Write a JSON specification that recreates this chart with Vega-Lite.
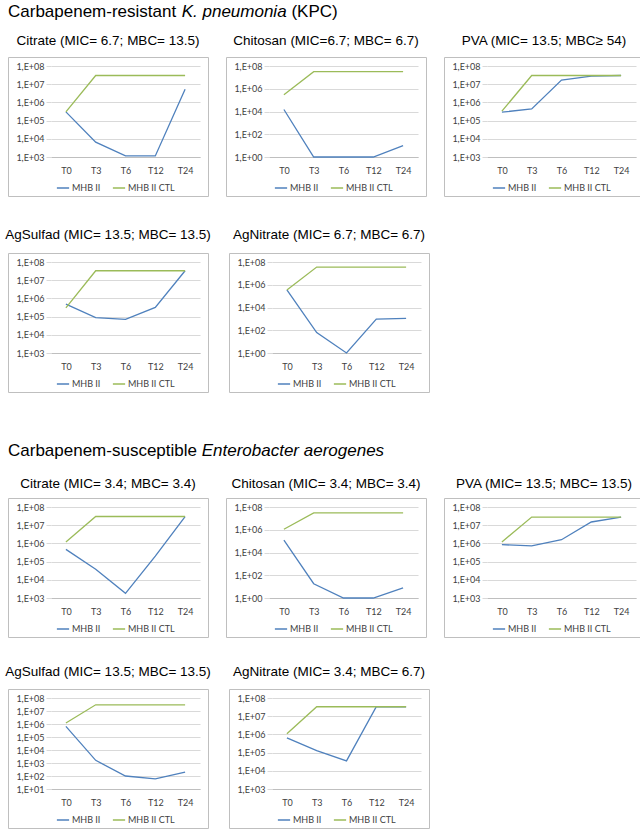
{
  "$schema": "https://vega.github.io/schema/vega-lite/v6.json",
  "padding": {"left": 4, "top": 0, "right": 0, "bottom": 0},
  "datasets": {
    "d": [
      {"o":"K","a":"Citrate","s":"MHB II","t":"T0","v":300000},
      {"o":"K","a":"Citrate","s":"MHB II","t":"T3","v":6500},
      {"o":"K","a":"Citrate","s":"MHB II","t":"T6","v":1150},
      {"o":"K","a":"Citrate","s":"MHB II","t":"T12","v":1150},
      {"o":"K","a":"Citrate","s":"MHB II","t":"T24","v":5300000},
      {"o":"K","a":"Citrate","s":"MHB II CTL","t":"T0","v":300000},
      {"o":"K","a":"Citrate","s":"MHB II CTL","t":"T3","v":30000000},
      {"o":"K","a":"Citrate","s":"MHB II CTL","t":"T6","v":30000000},
      {"o":"K","a":"Citrate","s":"MHB II CTL","t":"T12","v":30000000},
      {"o":"K","a":"Citrate","s":"MHB II CTL","t":"T24","v":30000000},
      {"o":"K","a":"Chitosan","s":"MHB II","t":"T0","v":15000},
      {"o":"K","a":"Chitosan","s":"MHB II","t":"T3","v":1},
      {"o":"K","a":"Chitosan","s":"MHB II","t":"T6","v":1},
      {"o":"K","a":"Chitosan","s":"MHB II","t":"T12","v":1},
      {"o":"K","a":"Chitosan","s":"MHB II","t":"T24","v":10},
      {"o":"K","a":"Chitosan","s":"MHB II CTL","t":"T0","v":300000},
      {"o":"K","a":"Chitosan","s":"MHB II CTL","t":"T3","v":32000000},
      {"o":"K","a":"Chitosan","s":"MHB II CTL","t":"T6","v":32000000},
      {"o":"K","a":"Chitosan","s":"MHB II CTL","t":"T12","v":32000000},
      {"o":"K","a":"Chitosan","s":"MHB II CTL","t":"T24","v":32000000},
      {"o":"K","a":"PVA","s":"MHB II","t":"T0","v":290000},
      {"o":"K","a":"PVA","s":"MHB II","t":"T3","v":440000},
      {"o":"K","a":"PVA","s":"MHB II","t":"T6","v":17000000},
      {"o":"K","a":"PVA","s":"MHB II","t":"T12","v":28000000},
      {"o":"K","a":"PVA","s":"MHB II","t":"T24","v":30000000},
      {"o":"K","a":"PVA","s":"MHB II CTL","t":"T0","v":330000},
      {"o":"K","a":"PVA","s":"MHB II CTL","t":"T3","v":30000000},
      {"o":"K","a":"PVA","s":"MHB II CTL","t":"T6","v":30000000},
      {"o":"K","a":"PVA","s":"MHB II CTL","t":"T12","v":30000000},
      {"o":"K","a":"PVA","s":"MHB II CTL","t":"T24","v":30000000},
      {"o":"K","a":"AgSulfad","s":"MHB II","t":"T0","v":490000},
      {"o":"K","a":"AgSulfad","s":"MHB II","t":"T3","v":88000},
      {"o":"K","a":"AgSulfad","s":"MHB II","t":"T6","v":70000},
      {"o":"K","a":"AgSulfad","s":"MHB II","t":"T12","v":320000},
      {"o":"K","a":"AgSulfad","s":"MHB II","t":"T24","v":33000000},
      {"o":"K","a":"AgSulfad","s":"MHB II CTL","t":"T0","v":300000},
      {"o":"K","a":"AgSulfad","s":"MHB II CTL","t":"T3","v":33000000},
      {"o":"K","a":"AgSulfad","s":"MHB II CTL","t":"T6","v":33000000},
      {"o":"K","a":"AgSulfad","s":"MHB II CTL","t":"T12","v":33000000},
      {"o":"K","a":"AgSulfad","s":"MHB II CTL","t":"T24","v":33000000},
      {"o":"K","a":"AgNitrate","s":"MHB II","t":"T0","v":350000},
      {"o":"K","a":"AgNitrate","s":"MHB II","t":"T3","v":62},
      {"o":"K","a":"AgNitrate","s":"MHB II","t":"T6","v":1},
      {"o":"K","a":"AgNitrate","s":"MHB II","t":"T12","v":960},
      {"o":"K","a":"AgNitrate","s":"MHB II","t":"T24","v":1100},
      {"o":"K","a":"AgNitrate","s":"MHB II CTL","t":"T0","v":350000},
      {"o":"K","a":"AgNitrate","s":"MHB II CTL","t":"T3","v":36000000},
      {"o":"K","a":"AgNitrate","s":"MHB II CTL","t":"T6","v":36000000},
      {"o":"K","a":"AgNitrate","s":"MHB II CTL","t":"T12","v":36000000},
      {"o":"K","a":"AgNitrate","s":"MHB II CTL","t":"T24","v":36000000},
      {"o":"E","a":"Citrate","s":"MHB II","t":"T0","v":470000},
      {"o":"E","a":"Citrate","s":"MHB II","t":"T3","v":38000},
      {"o":"E","a":"Citrate","s":"MHB II","t":"T6","v":1800},
      {"o":"E","a":"Citrate","s":"MHB II","t":"T12","v":200000},
      {"o":"E","a":"Citrate","s":"MHB II","t":"T24","v":30000000},
      {"o":"E","a":"Citrate","s":"MHB II CTL","t":"T0","v":1200000},
      {"o":"E","a":"Citrate","s":"MHB II CTL","t":"T3","v":30000000},
      {"o":"E","a":"Citrate","s":"MHB II CTL","t":"T6","v":30000000},
      {"o":"E","a":"Citrate","s":"MHB II CTL","t":"T12","v":30000000},
      {"o":"E","a":"Citrate","s":"MHB II CTL","t":"T24","v":30000000},
      {"o":"E","a":"Chitosan","s":"MHB II","t":"T0","v":120000},
      {"o":"E","a":"Chitosan","s":"MHB II","t":"T3","v":18},
      {"o":"E","a":"Chitosan","s":"MHB II","t":"T6","v":1},
      {"o":"E","a":"Chitosan","s":"MHB II","t":"T12","v":1},
      {"o":"E","a":"Chitosan","s":"MHB II","t":"T24","v":7.6},
      {"o":"E","a":"Chitosan","s":"MHB II CTL","t":"T0","v":1100000},
      {"o":"E","a":"Chitosan","s":"MHB II CTL","t":"T3","v":30000000},
      {"o":"E","a":"Chitosan","s":"MHB II CTL","t":"T6","v":30000000},
      {"o":"E","a":"Chitosan","s":"MHB II CTL","t":"T12","v":30000000},
      {"o":"E","a":"Chitosan","s":"MHB II CTL","t":"T24","v":30000000},
      {"o":"E","a":"PVA","s":"MHB II","t":"T0","v":850000},
      {"o":"E","a":"PVA","s":"MHB II","t":"T3","v":740000},
      {"o":"E","a":"PVA","s":"MHB II","t":"T6","v":1600000},
      {"o":"E","a":"PVA","s":"MHB II","t":"T12","v":15000000},
      {"o":"E","a":"PVA","s":"MHB II","t":"T24","v":28000000},
      {"o":"E","a":"PVA","s":"MHB II CTL","t":"T0","v":1200000},
      {"o":"E","a":"PVA","s":"MHB II CTL","t":"T3","v":28000000},
      {"o":"E","a":"PVA","s":"MHB II CTL","t":"T6","v":28000000},
      {"o":"E","a":"PVA","s":"MHB II CTL","t":"T12","v":28000000},
      {"o":"E","a":"PVA","s":"MHB II CTL","t":"T24","v":28000000},
      {"o":"E","a":"AgSulfad","s":"MHB II","t":"T0","v":660000},
      {"o":"E","a":"AgSulfad","s":"MHB II","t":"T3","v":1600},
      {"o":"E","a":"AgSulfad","s":"MHB II","t":"T6","v":100},
      {"o":"E","a":"AgSulfad","s":"MHB II","t":"T12","v":60},
      {"o":"E","a":"AgSulfad","s":"MHB II","t":"T24","v":200},
      {"o":"E","a":"AgSulfad","s":"MHB II CTL","t":"T0","v":1200000},
      {"o":"E","a":"AgSulfad","s":"MHB II CTL","t":"T3","v":30000000},
      {"o":"E","a":"AgSulfad","s":"MHB II CTL","t":"T6","v":30000000},
      {"o":"E","a":"AgSulfad","s":"MHB II CTL","t":"T12","v":30000000},
      {"o":"E","a":"AgSulfad","s":"MHB II CTL","t":"T24","v":30000000},
      {"o":"E","a":"AgNitrate","s":"MHB II","t":"T0","v":650000},
      {"o":"E","a":"AgNitrate","s":"MHB II","t":"T3","v":130000},
      {"o":"E","a":"AgNitrate","s":"MHB II","t":"T6","v":35000},
      {"o":"E","a":"AgNitrate","s":"MHB II","t":"T12","v":33000000},
      {"o":"E","a":"AgNitrate","s":"MHB II","t":"T24","v":33000000},
      {"o":"E","a":"AgNitrate","s":"MHB II CTL","t":"T0","v":1100000},
      {"o":"E","a":"AgNitrate","s":"MHB II CTL","t":"T3","v":33000000},
      {"o":"E","a":"AgNitrate","s":"MHB II CTL","t":"T6","v":33000000},
      {"o":"E","a":"AgNitrate","s":"MHB II CTL","t":"T12","v":33000000},
      {"o":"E","a":"AgNitrate","s":"MHB II CTL","t":"T24","v":33000000}
    ]
  },
  "spacing": 13,
  "resolve": {"scale": {"x": "independent", "y": "independent", "color": "independent"}},
  "vconcat": [
    {
      "spacing": 4.7,
      "hconcat": [
        {"data": {"values": [{}]}, "mark": {"type": "point", "opacity": 0, "size": 0}, "width": 1, "height": 4, "view": {"stroke": null},
         "title": {"text": "Carbapenem-resistant", "orient": "bottom", "anchor": "start", "fontSize": 17, "baseline": "top", "offset": 0}},
        {"data": {"values": [{}]}, "mark": {"type": "point", "opacity": 0, "size": 0}, "width": 1, "height": 4, "view": {"stroke": null},
         "title": {"text": "K. pneumonia", "orient": "bottom", "anchor": "start", "fontSize": 17, "fontStyle": "italic", "baseline": "top", "offset": 0}},
        {"data": {"values": [{}]}, "mark": {"type": "point", "opacity": 0, "size": 0}, "width": 1, "height": 4, "view": {"stroke": null},
         "title": {"text": "(KPC)", "orient": "bottom", "anchor": "start", "fontSize": 17, "baseline": "top", "offset": 0}}
      ]
    },
    {
      "spacing": 30,
      "resolve": {"scale": {"x": "independent", "y": "independent", "color": "independent"}},
      "vconcat": [
        {
          "spacing": 16,
          "resolve": {"scale": {"x": "independent", "y": "independent", "color": "independent"}},
          "hconcat": [
            {"width": 200, "height": 139, "title": {"text": "Citrate (MIC= 6.7; MBC= 13.5)", "offset": 10},
             "data": {"name": "d"}, "transform": [{"filter": "datum.o==='K' && datum.a==='Citrate'"}],
             "encoding": {"x": {"field": "t", "type": "ordinal", "sort": ["T0","T3","T6","T12","T24"], "scale": {"type": "point", "range": [43, 192], "padding": 0.5}, "axis": {"title": null}}},
             "resolve": {"axis": {"y": "independent"}},
             "layer": [
               {"mark": {"type": "line", "strokeWidth": 1.3},
                "encoding": {
                  "y": {"field": "v", "type": "quantitative", "scale": {"type": "log", "domain": [1000, 100000000], "range": [100, 9], "nice": false}, "axis": {"title": null, "values": [1000, 10000, 100000, 1000000, 10000000, 100000000], "labels": false, "ticks": false, "grid": true, "offset": 0}},
                  "color": {"field": "s", "type": "nominal", "scale": {"domain": ["MHB II", "MHB II CTL"], "range": ["#4F81BD", "#9BBB59"]}, "legend": {"title": null}}}},
               {"mark": {"type": "point", "opacity": 0, "size": 0},
                "encoding": {"y": {"field": "v", "type": "quantitative", "axis": {"title": null, "orient": "left", "grid": false, "values": [1000, 10000, 100000, 1000000, 10000000, 100000000], "labelExpr": "'1,E+0' + round(log(datum.value)/LN10)"}}}}
             ]},
            {"width": 200, "height": 139, "title": {"text": "Chitosan (MIC=6.7; MBC= 6.7)", "offset": 10},
             "data": {"name": "d"}, "transform": [{"filter": "datum.o==='K' && datum.a==='Chitosan'"}],
             "encoding": {"x": {"field": "t", "type": "ordinal", "sort": ["T0","T3","T6","T12","T24"], "scale": {"type": "point", "range": [43, 192], "padding": 0.5}, "axis": {"title": null}}},
             "resolve": {"axis": {"y": "independent"}},
             "layer": [
               {"mark": {"type": "line", "strokeWidth": 1.3},
                "encoding": {
                  "y": {"field": "v", "type": "quantitative", "scale": {"type": "log", "domain": [1, 100000000], "range": [100, 9], "nice": false}, "axis": {"title": null, "values": [1, 100, 10000, 1000000, 100000000], "labels": false, "ticks": false, "grid": true, "offset": 0}},
                  "color": {"field": "s", "type": "nominal", "scale": {"domain": ["MHB II", "MHB II CTL"], "range": ["#4F81BD", "#9BBB59"]}, "legend": {"title": null}}}},
               {"mark": {"type": "point", "opacity": 0, "size": 0},
                "encoding": {"y": {"field": "v", "type": "quantitative", "axis": {"title": null, "orient": "left", "grid": false, "values": [1, 100, 10000, 1000000, 100000000], "labelExpr": "'1,E+0' + round(log(datum.value)/LN10)"}}}}
             ]},
            {"width": 200, "height": 139, "title": {"text": "PVA (MIC= 13.5; MBC≥ 54)", "offset": 10},
             "data": {"name": "d"}, "transform": [{"filter": "datum.o==='K' && datum.a==='PVA'"}],
             "encoding": {"x": {"field": "t", "type": "ordinal", "sort": ["T0","T3","T6","T12","T24"], "scale": {"type": "point", "range": [43, 192], "padding": 0.5}, "axis": {"title": null}}},
             "resolve": {"axis": {"y": "independent"}},
             "layer": [
               {"mark": {"type": "line", "strokeWidth": 1.3},
                "encoding": {
                  "y": {"field": "v", "type": "quantitative", "scale": {"type": "log", "domain": [1000, 100000000], "range": [100, 9], "nice": false}, "axis": {"title": null, "values": [1000, 10000, 100000, 1000000, 10000000, 100000000], "labels": false, "ticks": false, "grid": true, "offset": 0}},
                  "color": {"field": "s", "type": "nominal", "scale": {"domain": ["MHB II", "MHB II CTL"], "range": ["#4F81BD", "#9BBB59"]}, "legend": {"title": null}}}},
               {"mark": {"type": "point", "opacity": 0, "size": 0},
                "encoding": {"y": {"field": "v", "type": "quantitative", "axis": {"title": null, "orient": "left", "grid": false, "values": [1000, 10000, 100000, 1000000, 10000000, 100000000], "labelExpr": "'1,E+0' + round(log(datum.value)/LN10)"}}}}
             ]}
          ]
        },
        {
          "spacing": 16,
          "resolve": {"scale": {"x": "independent", "y": "independent", "color": "independent"}},
          "hconcat": [
            {"width": 200, "height": 139, "title": {"text": "AgSulfad (MIC= 13.5; MBC= 13.5)", "offset": 12},
             "data": {"name": "d"}, "transform": [{"filter": "datum.o==='K' && datum.a==='AgSulfad'"}],
             "encoding": {"x": {"field": "t", "type": "ordinal", "sort": ["T0","T3","T6","T12","T24"], "scale": {"type": "point", "range": [43, 192], "padding": 0.5}, "axis": {"title": null}}},
             "resolve": {"axis": {"y": "independent"}},
             "layer": [
               {"mark": {"type": "line", "strokeWidth": 1.3},
                "encoding": {
                  "y": {"field": "v", "type": "quantitative", "scale": {"type": "log", "domain": [1000, 100000000], "range": [100, 9], "nice": false}, "axis": {"title": null, "values": [1000, 10000, 100000, 1000000, 10000000, 100000000], "labels": false, "ticks": false, "grid": true, "offset": 0}},
                  "color": {"field": "s", "type": "nominal", "scale": {"domain": ["MHB II", "MHB II CTL"], "range": ["#4F81BD", "#9BBB59"]}, "legend": {"title": null}}}},
               {"mark": {"type": "point", "opacity": 0, "size": 0},
                "encoding": {"y": {"field": "v", "type": "quantitative", "axis": {"title": null, "orient": "left", "grid": false, "values": [1000, 10000, 100000, 1000000, 10000000, 100000000], "labelExpr": "'1,E+0' + round(log(datum.value)/LN10)"}}}}
             ]},
            {"width": 200, "height": 139, "title": {"text": "AgNitrate (MIC= 6.7; MBC= 6.7)", "offset": 12},
             "data": {"name": "d"}, "transform": [{"filter": "datum.o==='K' && datum.a==='AgNitrate'"}],
             "encoding": {"x": {"field": "t", "type": "ordinal", "sort": ["T0","T3","T6","T12","T24"], "scale": {"type": "point", "range": [43, 192], "padding": 0.5}, "axis": {"title": null}}},
             "resolve": {"axis": {"y": "independent"}},
             "layer": [
               {"mark": {"type": "line", "strokeWidth": 1.3},
                "encoding": {
                  "y": {"field": "v", "type": "quantitative", "scale": {"type": "log", "domain": [1, 100000000], "range": [100, 9], "nice": false}, "axis": {"title": null, "values": [1, 100, 10000, 1000000, 100000000], "labels": false, "ticks": false, "grid": true, "offset": 0}},
                  "color": {"field": "s", "type": "nominal", "scale": {"domain": ["MHB II", "MHB II CTL"], "range": ["#4F81BD", "#9BBB59"]}, "legend": {"title": null}}}},
               {"mark": {"type": "point", "opacity": 0, "size": 0},
                "encoding": {"y": {"field": "v", "type": "quantitative", "axis": {"title": null, "orient": "left", "grid": false, "values": [1, 100, 10000, 1000000, 100000000], "labelExpr": "'1,E+0' + round(log(datum.value)/LN10)"}}}}
             ]}
          ]
        }
      ]
    },
    {
      "spacing": 17,
      "resolve": {"scale": {"x": "independent", "y": "independent", "color": "independent"}},
      "vconcat": [
        {
          "spacing": 4.7,
          "hconcat": [
            {"data": {"values": [{}]}, "mark": {"type": "point", "opacity": 0, "size": 0}, "width": 1, "height": 37, "view": {"stroke": null},
             "title": {"text": "Carbapenem-susceptible", "orient": "bottom", "anchor": "start", "fontSize": 17, "baseline": "top", "offset": 0}},
            {"data": {"values": [{}]}, "mark": {"type": "point", "opacity": 0, "size": 0}, "width": 1, "height": 37, "view": {"stroke": null},
             "title": {"text": "Enterobacter aerogenes", "orient": "bottom", "anchor": "start", "fontSize": 17, "fontStyle": "italic", "baseline": "top", "offset": 0}}
          ]
        },
        {
          "spacing": 26,
          "resolve": {"scale": {"x": "independent", "y": "independent", "color": "independent"}},
          "vconcat": [
            {
              "spacing": 16,
              "resolve": {"scale": {"x": "independent", "y": "independent", "color": "independent"}},
              "hconcat": [
                {"width": 200, "height": 139, "title": {"text": "Citrate (MIC= 3.4; MBC= 3.4)", "offset": 8},
                 "data": {"name": "d"}, "transform": [{"filter": "datum.o==='E' && datum.a==='Citrate'"}],
                 "encoding": {"x": {"field": "t", "type": "ordinal", "sort": ["T0","T3","T6","T12","T24"], "scale": {"type": "point", "range": [43, 192], "padding": 0.5}, "axis": {"title": null}}},
                 "resolve": {"axis": {"y": "independent"}},
                 "layer": [
                   {"mark": {"type": "line", "strokeWidth": 1.3},
                    "encoding": {
                      "y": {"field": "v", "type": "quantitative", "scale": {"type": "log", "domain": [1000, 100000000], "range": [100, 9], "nice": false}, "axis": {"title": null, "values": [1000, 10000, 100000, 1000000, 10000000, 100000000], "labels": false, "ticks": false, "grid": true, "offset": 0}},
                      "color": {"field": "s", "type": "nominal", "scale": {"domain": ["MHB II", "MHB II CTL"], "range": ["#4F81BD", "#9BBB59"]}, "legend": {"title": null}}}},
                   {"mark": {"type": "point", "opacity": 0, "size": 0},
                    "encoding": {"y": {"field": "v", "type": "quantitative", "axis": {"title": null, "orient": "left", "grid": false, "values": [1000, 10000, 100000, 1000000, 10000000, 100000000], "labelExpr": "'1,E+0' + round(log(datum.value)/LN10)"}}}}
                 ]},
                {"width": 200, "height": 139, "title": {"text": "Chitosan (MIC= 3.4; MBC= 3.4)", "offset": 8},
                 "data": {"name": "d"}, "transform": [{"filter": "datum.o==='E' && datum.a==='Chitosan'"}],
                 "encoding": {"x": {"field": "t", "type": "ordinal", "sort": ["T0","T3","T6","T12","T24"], "scale": {"type": "point", "range": [43, 192], "padding": 0.5}, "axis": {"title": null}}},
                 "resolve": {"axis": {"y": "independent"}},
                 "layer": [
                   {"mark": {"type": "line", "strokeWidth": 1.3},
                    "encoding": {
                      "y": {"field": "v", "type": "quantitative", "scale": {"type": "log", "domain": [1, 100000000], "range": [100, 9], "nice": false}, "axis": {"title": null, "values": [1, 100, 10000, 1000000, 100000000], "labels": false, "ticks": false, "grid": true, "offset": 0}},
                      "color": {"field": "s", "type": "nominal", "scale": {"domain": ["MHB II", "MHB II CTL"], "range": ["#4F81BD", "#9BBB59"]}, "legend": {"title": null}}}},
                   {"mark": {"type": "point", "opacity": 0, "size": 0},
                    "encoding": {"y": {"field": "v", "type": "quantitative", "axis": {"title": null, "orient": "left", "grid": false, "values": [1, 100, 10000, 1000000, 100000000], "labelExpr": "'1,E+0' + round(log(datum.value)/LN10)"}}}}
                 ]},
                {"width": 200, "height": 139, "title": {"text": "PVA (MIC= 13.5; MBC= 13.5)", "offset": 8},
                 "data": {"name": "d"}, "transform": [{"filter": "datum.o==='E' && datum.a==='PVA'"}],
                 "encoding": {"x": {"field": "t", "type": "ordinal", "sort": ["T0","T3","T6","T12","T24"], "scale": {"type": "point", "range": [43, 192], "padding": 0.5}, "axis": {"title": null}}},
                 "resolve": {"axis": {"y": "independent"}},
                 "layer": [
                   {"mark": {"type": "line", "strokeWidth": 1.3},
                    "encoding": {
                      "y": {"field": "v", "type": "quantitative", "scale": {"type": "log", "domain": [1000, 100000000], "range": [100, 9], "nice": false}, "axis": {"title": null, "values": [1000, 10000, 100000, 1000000, 10000000, 100000000], "labels": false, "ticks": false, "grid": true, "offset": 0}},
                      "color": {"field": "s", "type": "nominal", "scale": {"domain": ["MHB II", "MHB II CTL"], "range": ["#4F81BD", "#9BBB59"]}, "legend": {"title": null}}}},
                   {"mark": {"type": "point", "opacity": 0, "size": 0},
                    "encoding": {"y": {"field": "v", "type": "quantitative", "axis": {"title": null, "orient": "left", "grid": false, "values": [1000, 10000, 100000, 1000000, 10000000, 100000000], "labelExpr": "'1,E+0' + round(log(datum.value)/LN10)"}}}}
                 ]}
              ]
            },
            {
              "spacing": 16,
              "resolve": {"scale": {"x": "independent", "y": "independent", "color": "independent"}},
              "hconcat": [
                {"width": 200, "height": 139, "title": {"text": "AgSulfad (MIC= 13.5; MBC= 13.5)", "offset": 11},
                 "data": {"name": "d"}, "transform": [{"filter": "datum.o==='E' && datum.a==='AgSulfad'"}],
                 "encoding": {"x": {"field": "t", "type": "ordinal", "sort": ["T0","T3","T6","T12","T24"], "scale": {"type": "point", "range": [43, 192], "padding": 0.5}, "axis": {"title": null}}},
                 "resolve": {"axis": {"y": "independent"}},
                 "layer": [
                   {"mark": {"type": "line", "strokeWidth": 1.3},
                    "encoding": {
                      "y": {"field": "v", "type": "quantitative", "scale": {"type": "log", "domain": [10, 100000000], "range": [100, 9], "nice": false}, "axis": {"title": null, "values": [10, 100, 1000, 10000, 100000, 1000000, 10000000, 100000000], "labels": false, "ticks": false, "grid": true, "offset": 0}},
                      "color": {"field": "s", "type": "nominal", "scale": {"domain": ["MHB II", "MHB II CTL"], "range": ["#4F81BD", "#9BBB59"]}, "legend": {"title": null}}}},
                   {"mark": {"type": "point", "opacity": 0, "size": 0},
                    "encoding": {"y": {"field": "v", "type": "quantitative", "axis": {"title": null, "orient": "left", "grid": false, "values": [10, 100, 1000, 10000, 100000, 1000000, 10000000, 100000000], "labelExpr": "'1,E+0' + round(log(datum.value)/LN10)"}}}}
                 ]},
                {"width": 200, "height": 139, "title": {"text": "AgNitrate (MIC= 3.4; MBC= 6.7)", "offset": 11},
                 "data": {"name": "d"}, "transform": [{"filter": "datum.o==='E' && datum.a==='AgNitrate'"}],
                 "encoding": {"x": {"field": "t", "type": "ordinal", "sort": ["T0","T3","T6","T12","T24"], "scale": {"type": "point", "range": [43, 192], "padding": 0.5}, "axis": {"title": null}}},
                 "resolve": {"axis": {"y": "independent"}},
                 "layer": [
                   {"mark": {"type": "line", "strokeWidth": 1.3},
                    "encoding": {
                      "y": {"field": "v", "type": "quantitative", "scale": {"type": "log", "domain": [1000, 100000000], "range": [100, 9], "nice": false}, "axis": {"title": null, "values": [1000, 10000, 100000, 1000000, 10000000, 100000000], "labels": false, "ticks": false, "grid": true, "offset": 0}},
                      "color": {"field": "s", "type": "nominal", "scale": {"domain": ["MHB II", "MHB II CTL"], "range": ["#4F81BD", "#9BBB59"]}, "legend": {"title": null}}}},
                   {"mark": {"type": "point", "opacity": 0, "size": 0},
                    "encoding": {"y": {"field": "v", "type": "quantitative", "axis": {"title": null, "orient": "left", "grid": false, "values": [1000, 10000, 100000, 1000000, 10000000, 100000000], "labelExpr": "'1,E+0' + round(log(datum.value)/LN10)"}}}}
                 ]}
              ]
            }
          ]
        }
      ]
    }
  ],
  "config": {
    "font": "Liberation Sans",
    "view": {"stroke": "#bfbfbf", "strokeWidth": 1},
    "title": {"font": "Liberation Sans", "fontSize": 13.5, "fontWeight": "normal", "color": "#000000", "anchor": "middle", "baseline": "alphabetic"},
    "axisX": {"domainColor": "#bfbfbf", "ticks": false, "grid": false, "labelAngle": 0, "labelPadding": 9, "offset": -39, "labelFont": "Lato", "labelFontSize": 9, "labelColor": "#404040"},
    "axisY": {"domain": false, "grid": false, "gridColor": "#d9d9d9", "tickColor": "#d9d9d9", "tickSize": 5, "labelFont": "Lato", "labelFontSize": 9, "labelColor": "#404040", "labelPadding": 2, "offset": -43},
    "legend": {"orient": "none", "legendX": 48, "legendY": 124, "direction": "horizontal", "symbolType": "stroke", "symbolSize": 150, "symbolStrokeWidth": 1.5, "labelFont": "Lato", "labelFontSize": 9, "labelColor": "#404040", "columnPadding": 8, "labelOffset": 2}
  }
}
